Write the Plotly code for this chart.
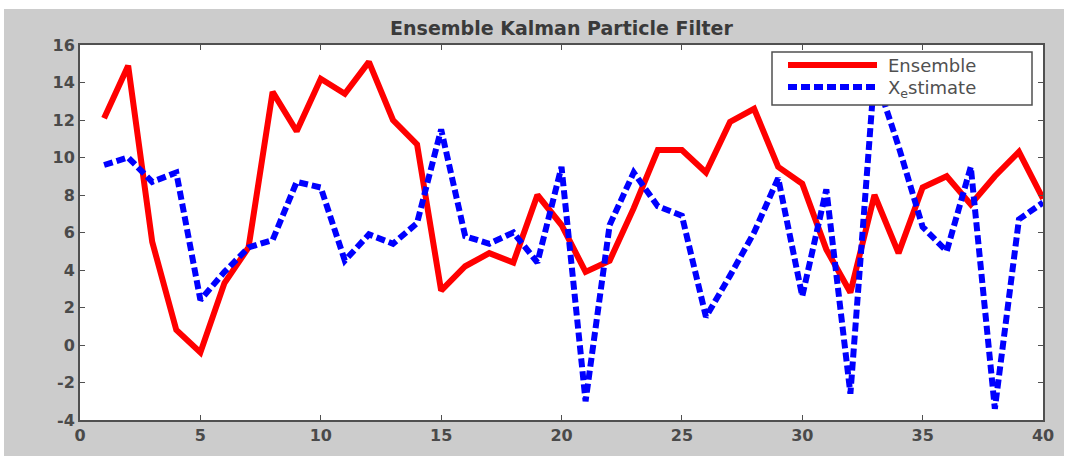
import plotly.graph_objects as go

steps = list(range(1, 41))
ensemble = [12.1, 14.9, 5.5, 0.8, -0.4, 3.3, 5.2, 13.5, 11.4, 14.2,
            13.4, 15.1, 12.0, 10.7, 2.9, 4.2, 4.9, 4.4, 8.0, 6.4,
            3.9, 4.5, 7.3, 10.4, 10.4, 9.2, 11.9, 12.6, 9.5, 8.6,
            5.1, 2.8, 8.0, 4.9, 8.4, 9.0, 7.5, 9.0, 10.3, 7.8]
x_estimate = [9.6, 10.0, 8.7, 9.2, 2.4, 3.9, 5.2, 5.6, 8.7, 8.4,
              4.5, 5.9, 5.4, 6.5, 11.5, 5.8, 5.4, 6.0, 4.4, 9.5,
              -3.0, 6.4, 9.2, 7.4, 6.9, 1.5, 3.7, 6.0, 8.9, 2.6,
              8.3, -2.6, 14.5, 10.6, 6.3, 5.0, 9.5, -3.4, 6.7, 7.6]
x_ticks = [0, 5, 10, 15, 20, 25, 30, 35, 40]
y_ticks = [-4, -2, 0, 2, 4, 6, 8, 10, 12, 14, 16]
title_text = "Ensemble Kalman Particle Filter"
legend_names = ["Ensemble", "X<sub>e</sub>stimate"]

W, H = 1074, 456
L, R, T, B = 80, 1043, 45, 420
pw, ph = R - L, B - T

def px(xp):
    return (xp - L) / pw

def py(yp):
    return (B - yp) / ph

fig = go.Figure()
fig.add_trace(go.Scatter(x=steps, y=ensemble, mode="lines", name="Ensemble",
                         line=dict(color="#ff0000", width=6), showlegend=False))
fig.add_trace(go.Scatter(x=steps, y=x_estimate, mode="lines", name="Xestimate",
                         line=dict(color="#0000ff", width=6, dash="9px,4px"), showlegend=False))

axis_common = dict(showgrid=False, zeroline=False, showline=True, linecolor="#505050",
                   linewidth=2, mirror="ticks", ticks="inside", ticklen=5, tickwidth=1,
                   tickcolor="#505050",
                   tickfont=dict(family="DejaVu Sans", size=16, color="#4a4a4a", weight="bold"))
fig.update_xaxes(range=[0, 40], tickmode="array", tickvals=x_ticks,
                 ticktext=[str(v) for v in x_ticks], **axis_common)
fig.update_yaxes(range=[-4, 16], tickmode="array", tickvals=y_ticks,
                 ticktext=[str(v) for v in y_ticks], **axis_common)

shapes = [
    dict(type="rect", xref="paper", yref="paper", x0=px(0), x1=px(4), y0=py(H), y1=py(0),
         fillcolor="white", line=dict(width=0), layer="below"),
    dict(type="rect", xref="paper", yref="paper", x0=px(0), x1=px(W), y0=py(9), y1=py(0),
         fillcolor="white", line=dict(width=0), layer="below"),
    dict(type="rect", xref="paper", yref="paper", x0=px(1064), x1=px(W), y0=py(H), y1=py(0),
         fillcolor="white", line=dict(width=0), layer="below"),
    dict(type="rect", xref="paper", yref="paper", x0=px(772), x1=px(1032), y0=py(105), y1=py(52),
         fillcolor="white", line=dict(color="#505050", width=1.5), layer="above"),
    dict(type="line", xref="paper", yref="paper", x0=px(788), x1=px(877), y0=py(65), y1=py(65),
         line=dict(color="#ff0000", width=6), layer="above"),
    dict(type="line", xref="paper", yref="paper", x0=px(788), x1=px(877), y0=py(87), y1=py(87),
         line=dict(color="#0000ff", width=6, dash="9px,4px"), layer="above"),
]

annotations = [
    dict(text=legend_names[0], xref="paper", yref="paper", x=px(886), y=py(65),
         xanchor="left", yanchor="middle", showarrow=False,
         font=dict(family="DejaVu Sans", size=18, color="#505050")),
    dict(text=legend_names[1], xref="paper", yref="paper", x=px(886), y=py(89),
         xanchor="left", yanchor="middle", showarrow=False,
         font=dict(family="DejaVu Sans", size=18, color="#505050")),
]

fig.update_layout(
    width=W, height=H,
    margin=dict(l=L, r=W - R, t=T, b=H - B, pad=0),
    paper_bgcolor="#cccccc", plot_bgcolor="white",
    title=dict(text="<b>" + title_text + "</b>", x=(L + R) / 2 / W, xanchor="center",
               y=1 - 28 / H, yanchor="middle",
               font=dict(family="DejaVu Sans", size=19, color="#3a3a3a")),
    shapes=shapes, annotations=annotations, showlegend=False,
)

fig.write_html("out.html")
